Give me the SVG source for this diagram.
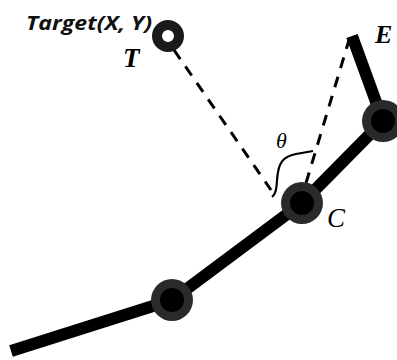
<svg xmlns="http://www.w3.org/2000/svg" width="397" height="360" viewBox="0 0 397 360">
<style>
.arm{fill:none;stroke:#000;stroke-width:12;stroke-linejoin:round;stroke-linecap:butt}
.dash{fill:none;stroke:#000;stroke-width:3;stroke-dasharray:11 9}
.jo{fill:#2a2a2a}
.ji{fill:#000}
.lbl{font-family:"Liberation Serif",serif;font-style:italic;font-weight:bold;fill:#000}
.thin{font-weight:normal}
</style>
<rect width="397" height="360" fill="#fff"/>
<g id="connectors">
<polyline class="arm" points="11,351 172,300 302,203 383,121 352,36"/>
<line class="dash" x1="174" y1="50" x2="271" y2="190"/>
<line class="dash" x1="306" y1="183" x2="349" y2="40"/>
<path d="M272,197 C278,192 276,182 278,172 C280,160 286,156 296,154 L313,151" fill="none" stroke="#000" stroke-width="2.2"/>
</g>
<g id="target">
<circle cx="168" cy="36" r="11" fill="#fff" stroke="#1a1a1a" stroke-width="10"/>
<text x="26" y="30" font-family="'Open Sans',sans-serif" font-style="italic" font-weight="bold" font-size="19" textLength="126" lengthAdjust="spacingAndGlyphs" fill="#111">Target(X, Y)</text>
<text class="lbl" x="123" y="67" font-size="27">T</text>
</g>
<g id="joint1">
<circle class="jo" cx="172" cy="300" r="21"/>
<circle class="ji" cx="172" cy="300" r="12"/>
</g>
<g id="jointC">
<circle class="jo" cx="302" cy="203" r="21"/>
<circle class="ji" cx="302" cy="203" r="12"/>
<text class="lbl thin" x="327" y="227" font-size="27">C</text>
<text class="lbl thin" x="276" y="148" font-size="22">θ</text>
</g>
<g id="joint3">
<circle class="jo" cx="383" cy="121" r="21"/>
<circle class="ji" cx="383" cy="121" r="12"/>
</g>
<g id="endE">
<text class="lbl" x="375" y="43" font-size="26">E</text>
</g>
</svg>
